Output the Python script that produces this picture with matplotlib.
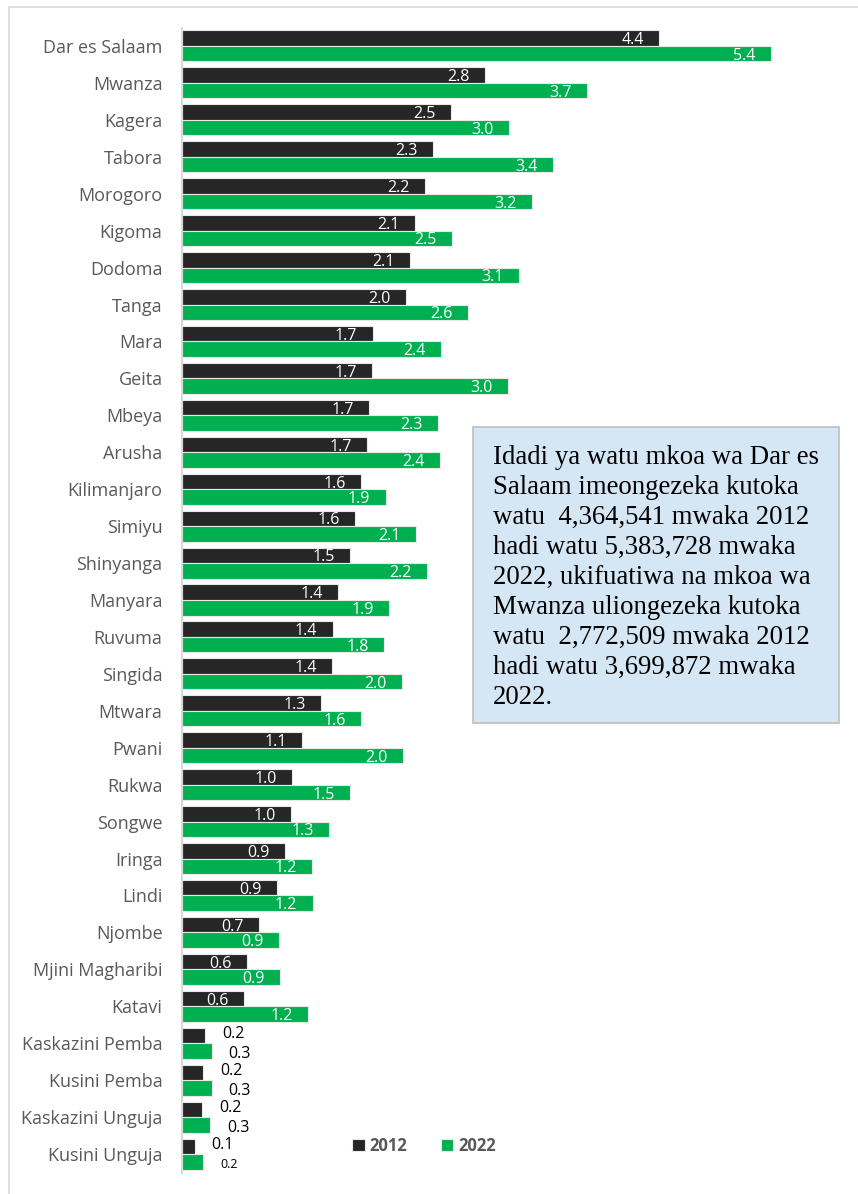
import matplotlib
matplotlib.use("Agg")
import matplotlib.pyplot as plt
from matplotlib.patches import Rectangle

# Idadi ya watu kwa mkoa (milioni)
regions = [
    "Dar es Salaam", "Mwanza", "Kagera", "Tabora", "Morogoro", "Kigoma", "Dodoma",
    "Tanga", "Mara", "Geita", "Mbeya", "Arusha", "Kilimanjaro", "Simiyu",
    "Shinyanga", "Manyara", "Ruvuma", "Singida", "Mtwara", "Pwani", "Rukwa",
    "Songwe", "Iringa", "Lindi", "Njombe", "Mjini Magharibi", "Katavi",
    "Kaskazini Pemba", "Kusini Pemba", "Kaskazini Unguja", "Kusini Unguja",
]
pop_2012 = [
    4.365, 2.773, 2.458, 2.292, 2.218, 2.128, 2.084, 2.045, 1.744, 1.740,
    1.709, 1.694, 1.640, 1.584, 1.535, 1.425, 1.377, 1.371, 1.271, 1.099,
    1.005, 0.999, 0.941, 0.865, 0.702, 0.594, 0.565, 0.212, 0.195, 0.187,
    0.116,
]
pop_2022 = [
    5.384, 3.700, 2.989, 3.392, 3.197, 2.471, 3.086, 2.616, 2.372, 2.978,
    2.344, 2.356, 1.862, 2.140, 2.241, 1.893, 1.849, 2.008, 1.635, 2.025,
    1.541, 1.345, 1.193, 1.194, 0.890, 0.893, 1.153, 0.272, 0.271, 0.257,
    0.196,
]
series_names = ["2012", "2022"]
colors = ["#262626", "#00B050"]

note = ("Idadi ya watu mkoa wa Dar es\n"
        "Salaam imeongezeka kutoka\n"
        "watu  4,364,541 mwaka 2012\n"
        "hadi watu 5,383,728 mwaka\n"
        "2022, ukifuatiwa na mkoa wa\n"
        "Mwanza uliongezeka kutoka\n"
        "watu  2,772,509 mwaka 2012\n"
        "hadi watu 3,699,872 mwaka\n"
        "2022.")

W, H = 858, 1194
fig = plt.figure(figsize=(W / 100, H / 100), dpi=100)
fig.patch.set_facecolor("white")
# outer frame
fig.patches.append(Rectangle((9 / W, -0.01), 1.0, 1 - 7 / H + 0.01,
                             transform=fig.transFigure, fill=False,
                             edgecolor="#d9d9d9", linewidth=1.2))

ax = fig.add_axes([182 / W, 1 - 1172.5 / H, (838 - 182) / W, (1172.5 - 27.5) / H])

bar_h = 0.42
font = ["Open Sans", "DejaVu Sans"]
n = len(regions)
for k, (vals, col) in enumerate(zip([pop_2012, pop_2022], colors)):
    off = -bar_h / 2 if k == 0 else bar_h / 2
    ys = [i + off for i in range(n)]
    ax.barh(ys, vals, height=bar_h, color=col, edgecolor="#e8e8e8",
            linewidth=0.8, label=series_names[k])
    for y, v in zip(ys, vals):
        if v >= 0.5:
            ax.annotate(f"{v:.1f}", (v, y), xytext=(-11, -1.5),
                        textcoords="offset points", ha="right", va="center",
                        color="white", fontsize=11.5, family=font)
        else:
            small = (k == 1 and v < 0.25)
            ax.annotate(f"{v:.1f}", (v, y), xytext=(12, -2 if k else 1),
                        textcoords="offset points", ha="left", va="center",
                        color="black", fontsize=9 if small else 11.5,
                        family=font)

ax.set_xlim(0, 6.0)
ax.set_ylim(n - 0.5, -0.5)
ax.set_yticks(range(n))
ax.set_yticklabels(regions, family=font, fontsize=13, color="#595959")
ax.tick_params(axis="y", length=0, pad=14)
ax.set_xticks([])
for s in ["top", "right", "bottom"]:
    ax.spines[s].set_visible(False)
ax.spines["left"].set_color("#d9d9d9")
ax.spines["left"].set_linewidth(1.5)

leg = ax.legend(loc="center", bbox_to_anchor=((424 - 182) / (838 - 182), (1172.5 - 1146) / (1172.5 - 27.5)),
                ncol=2, frameon=False, handlelength=0.75, handleheight=0.75,
                columnspacing=2.0, handletextpad=0.3,
                prop={"family": font, "weight": "bold", "size": 12})
for t in leg.get_texts():
    t.set_color("#595959")

# note box
box = Rectangle((473 / W, 1 - 723 / H), (839 - 473) / W, (723 - 427) / H,
                transform=fig.transFigure, facecolor="#D5E6F5",
                edgecolor="#bfbfbf", linewidth=1.2)
fig.patches.append(box)
fig.text(493 / W, 1 - 445 / H, note, transform=fig.transFigure, ha="left",
         va="top", family=["Liberation Serif", "DejaVu Serif"], fontsize=19.3,
         linespacing=1.26, color="black")

fig.savefig("out.png", dpi=100)
